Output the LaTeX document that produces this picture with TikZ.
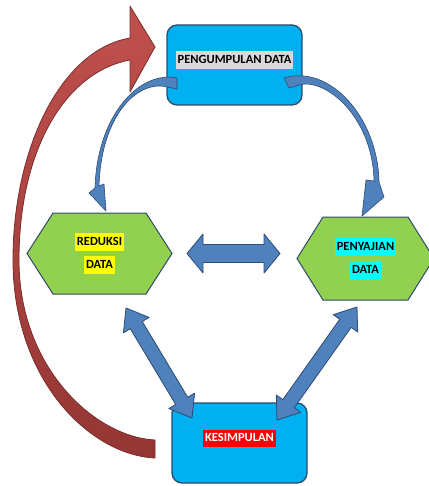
\documentclass[tikz,border=0pt]{standalone}
\usepackage{fontspec}
\setmainfont{Carlito}
\usepackage{tikz}
\usetikzlibrary{calc,backgrounds}

\definecolor{boxcyan}{HTML}{00B0F0}
\definecolor{boxline}{HTML}{2F4A6A}
\definecolor{hexgreen}{HTML}{92D050}
\definecolor{arrowblue}{HTML}{4F81BD}
\definecolor{arrowline}{HTML}{2E4B73}
\definecolor{arrowred}{HTML}{C0504D}
\definecolor{arrowdark}{HTML}{943634}
\definecolor{redline}{HTML}{7A2E2C}
\definecolor{hlgray}{HTML}{D9D9D9}
\definecolor{hlyellow}{HTML}{FFFF00}
\definecolor{hlcyan}{HTML}{00FFFF}
\definecolor{hlred}{HTML}{FF0000}

\newcommand{\hilite}[2]{{\setlength\fboxsep{0pt}\colorbox{#1}{\rule[-5.5pt]{0pt}{17.5pt}\,#2\,}}}

% from, to, head length, head half width, shaft half width
\newcommand{\blockarrow}[5]{%
  \filldraw[blockarr] (#1)
    -- ($(#1)!#3!(#2)!#4!90:(#2)$) -- ($(#1)!#3!(#2)!#5!90:(#2)$)
    -- ($(#2)!#3!(#1)!#5!-90:(#1)$) -- ($(#2)!#3!(#1)!#4!-90:(#1)$)
    -- (#2)
    -- ($(#2)!#3!(#1)!#4!90:(#1)$) -- ($(#2)!#3!(#1)!#5!90:(#1)$)
    -- ($(#1)!#3!(#2)!#5!-90:(#2)$) -- ($(#1)!#3!(#2)!#4!-90:(#2)$)
    -- cycle;}

\begin{document}
\begin{tikzpicture}[x=1pt,y=-1pt,line join=round,
  font=\bfseries\fontsize{12.5}{23}\selectfont,
  box/.style={rectangle,rounded corners=10pt,fill=boxcyan,draw=boxline,line width=1.3pt,
    minimum width=135pt,minimum height=80pt,inner sep=0pt,outer sep=0pt,text depth=15pt},
  hexa/.style={rectangle,minimum width=145pt,minimum height=81pt,inner sep=0pt,outer sep=0pt,align=center},
  hexline/.style={fill=hexgreen,draw=boxline,line width=1pt},
  blockarr/.style={fill=arrowblue,draw=arrowline,line width=0.8pt},
  curvearr/.style={fill=arrowblue,draw=arrowline,line width=0.6pt}]
\useasboundingbox (0,0) rectangle (428,486);

\node[box] (pengumpulan) at (234.5,65) {\hilite{hlgray}{PENGUMPULAN DATA}};
\node[box] (kesimpulan) at (239.5,443) {\hilite{hlred}{\color{white}KESIMPULAN}};
\node[hexa] (reduksi) at (99.5,253.5) {\hilite{hlyellow}{REDUKSI}\\\hilite{hlyellow}{DATA}};
\node[hexa,minimum width=137pt,minimum height=83pt] (penyajian) at (365.5,258.5)
  {\hilite{hlcyan}{PENYAJIAN}\\\hilite{hlcyan}{DATA}};

\begin{pgfonlayer}{background}
\foreach \h in {reduksi,penyajian}
  \draw[hexline] (\h.west) -- ([xshift=26pt]\h.north west) -- ([xshift=-26pt]\h.north east)
    -- (\h.east) -- ([xshift=-26pt]\h.south east) -- ([xshift=26pt]\h.south west) -- cycle;
\end{pgfonlayer}

\shadedraw[top color=arrowred,bottom color=arrowdark,draw=redline,line width=0.8pt]
  (155,458) .. controls (90,455) and (13,380) .. (13,260)
  .. controls (13,150) and (60,50) .. (130,38) -- (130,6) -- (155,47) -- (130,92) -- (130,60)
  .. controls (65,72) and (19,150) .. (19,260)
  .. controls (19,368) and (95,437) .. (155,440) -- cycle;

\filldraw[curvearr] (177,78) .. controls (140,70) and (97,115) .. (95,188) -- (89,193)
  -- (106,211) -- (104,184) -- (99,186) .. controls (101,120) and (133,84) .. (162,86)
  -- (177,89) -- cycle;
\filldraw[curvearr] (284,78) .. controls (330,64) and (378,118) .. (379,182) -- (384,197)
  -- (362,216) -- (366,180) -- (374,181) .. controls (373,122) and (332,82) .. (303,84)
  -- (289,88) -- cycle;

\coordinate (hA) at (187,253.5);
\coordinate (hB) at (280,253.5);
\coordinate (dA) at (126,308);
\coordinate (dB) at (192,418);
\coordinate (eA) at (357,307);
\coordinate (eB) at (277,420);
\blockarrow{hA}{hB}{16pt}{19.5pt}{9pt}
\blockarrow{dA}{dB}{20pt}{15pt}{7pt}
\blockarrow{eA}{eB}{20pt}{15pt}{7pt}
\end{tikzpicture}
\end{document}
